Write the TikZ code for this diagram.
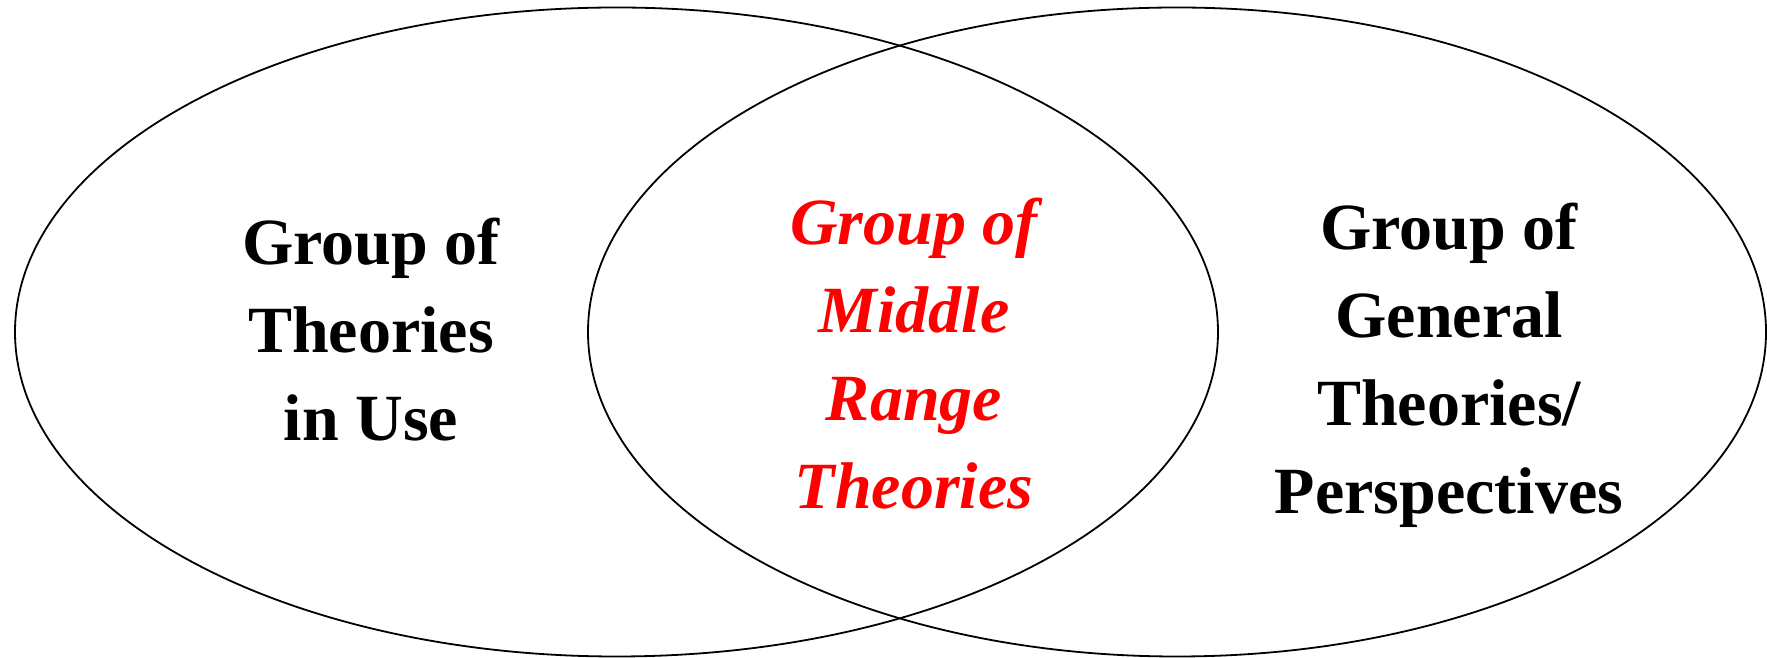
\documentclass[tikz,border=0pt]{standalone}
\usepackage{fontspec}
\setmainfont{Liberation Serif}
\usetikzlibrary{positioning}

\begin{document}
\begin{tikzpicture}[x=1pt,y=1pt,
  set/.style={line width=1.8pt},
  lbl/.style={align=center,inner sep=0pt,font=\fontsize{66}{88}\selectfont\bfseries}]
  \useasboundingbox (0,0) rectangle (1767,658);
  % dve mnoziny
  \draw[set] (616.5,326) ellipse [x radius=601.5,y radius=324.5];
  \draw[set] (1177,326) ellipse [x radius=589,y radius=324.5];
  \node[lbl] (use) at (371,328) {Group of\\Theories\\in Use};
  \node[lbl,text=red,font=\fontsize{66}{88}\selectfont\bfseries\itshape] (mid) at (914,304) {Group of\\Middle\\Range\\Theories};
  \node[lbl] (gen) at (1449,293) {Group of\\General\\Theories/\\Perspectives};
\end{tikzpicture}
\end{document}
